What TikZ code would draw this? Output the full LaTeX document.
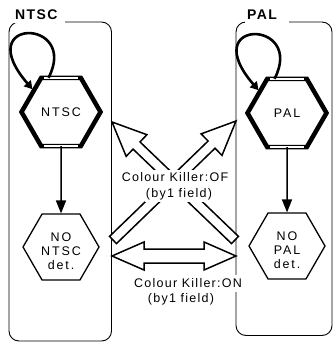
\documentclass[tikz,border=0pt]{standalone}
\usepackage{fontspec}
\setmainfont{Liberation Sans}
\newfontfamily\lblfont[LetterSpace=10]{Liberation Sans}
\newfontfamily\ttlfont[LetterSpace=10]{Liberation Sans}
\newfontfamily\hexfont[LetterSpace=15]{Liberation Sans}
\usetikzlibrary{calc,shapes.geometric,arrows.meta}
\newcommand\blockarrow[5]{% tail, tip, shaft half, head half, head length
  \coordinate (baH) at ($(#2)!#5!(#1)$);
  \draw[hollowarr] ($(#1)!#3!90:(#2)$) -- ($(baH)!#3!90:(#2)$) -- ($(baH)!#4!90:(#2)$) -- (#2)
    -- ($(baH)!#4!-90:(#2)$) -- ($(baH)!#3!-90:(#2)$) -- ($(#1)!#3!-90:(#2)$) -- cycle;}
\newcommand\blockarrowtwo[5]{% end A, end B, shaft half, head half, head length
  \coordinate (baHa) at ($(#2)!#5!(#1)$);
  \coordinate (baHb) at ($(#1)!#5!(#2)$);
  \draw[hollowarr] (#2) -- ($(baHa)!#4!90:(#2)$) -- ($(baHa)!#3!90:(#2)$) -- ($(baHb)!#3!90:(#2)$)
    -- ($(baHb)!#4!90:(#2)$) -- (#1) -- ($(baHb)!#4!-90:(#2)$) -- ($(baHb)!#3!-90:(#2)$)
    -- ($(baHa)!#3!-90:(#2)$) -- ($(baHa)!#4!-90:(#2)$) -- cycle;}
\tikzset{
  frameline/.style={draw=black, line width=0.9pt, rounded corners=10pt},
  titlenode/.style={font=\ttlfont\bfseries\fontsize{14}{16}\selectfont, fill=white,
    inner xsep=2pt, inner ysep=3pt, align=left, anchor=west},
  bighex/.style={regular polygon, regular polygon sides=6, draw, line width=4.5pt,
    inner sep=0pt, outer sep=0pt, minimum size=79pt,
    font=\hexfont\fontsize{12.5}{14}\selectfont},
  smallhex/.style={regular polygon, regular polygon sides=6, draw, line width=1.3pt,
    inner sep=0pt, minimum size=76pt, font=\hexfont\fontsize{12.5}{14}\selectfont},
  whitestripe/.style={draw=white, line width=1.6pt},
  loopline/.style={line width=2.6pt, -{Triangle[length=8pt,width=9pt]}, shorten >=2pt},
  vline/.style={line width=1.5pt, -{Triangle[length=13pt,width=10pt]}},
  hollowarr/.style={draw=black, fill=white, line width=1.5pt, line join=miter},
  lbl/.style={font=\lblfont\fontsize{12.5}{15}\selectfont, fill=white,
    inner xsep=1pt, inner ysep=2.5pt, anchor=base}
}
\begin{document}
\begin{tikzpicture}[x=1pt,y=-1pt]
\useasboundingbox (0,0) rectangle (334,344);
% group frames
\draw[frameline] (9,22) rectangle (111.5,341);
\draw[frameline] (236,22) rectangle (332,335.5);
\node[titlenode, text width=48pt] (ntscTitle) at (13,15) {NTSC};
\node[titlenode, text width=40pt] (palTitle) at (245,15) {PAL};
% states
\node[bighex] (NTSC) at (61,112) {NTSC};
\node[bighex] (PAL) at (287,113) {PAL};
\node[smallhex] (NONTSC) at (61,247)
  {\raisebox{-6pt}[\height][\depth]{\begin{tabular}{@{}c@{}}NO\\NTSC\\det.\end{tabular}}};
\node[smallhex] (NOPAL) at (287,246)
  {\raisebox{-6pt}[\height][\depth]{\begin{tabular}{@{}c@{}}NO\\PAL\\det.\end{tabular}}};
\draw[whitestripe] ($(NTSC.120)!3pt!(NTSC.60)$) -- ($(NTSC.60)!3pt!(NTSC.120)$);
\draw[whitestripe] ($(NTSC.240)!3pt!(NTSC.300)$) -- ($(NTSC.300)!3pt!(NTSC.240)$);
\draw[whitestripe] ($(PAL.120)!3pt!(PAL.60)$) -- ($(PAL.60)!3pt!(PAL.120)$);
\draw[whitestripe] ($(PAL.240)!3pt!(PAL.300)$) -- ($(PAL.300)!3pt!(PAL.240)$);
% self loops
\draw[loopline] (NTSC.110) .. controls +(31,-60) and +(-64,-74) .. (NTSC.142);
\draw[loopline] (PAL.110) .. controls +(31,-60) and +(-64,-74) .. (PAL.142);
% transitions inside groups
\draw[vline] (NTSC.south) -- (NONTSC.north);
\draw[vline] (PAL.south) -- (NOPAL.north);
% colour killer arrows
\coordinate (offPalTail) at (113,240);
\coordinate (offPalTip) at (236,121);
\coordinate (offNtscTail) at (235,240);
\coordinate (offNtscTip) at (112,122);
\coordinate (onL) at (112,256);
\coordinate (onR) at (236,256);
\blockarrow{offPalTail}{offPalTip}{5pt}{15pt}{34pt}
\blockarrow{offNtscTail}{offNtscTip}{5pt}{15pt}{34pt}
\blockarrowtwo{onL}{onR}{7pt}{14pt}{32pt}
% labels
\node[lbl, text depth=2pt] (offLbl) at (175,182) {Colour Killer:OF};
\node[lbl] (offLblB) at (179,197) {(by1 field)};
\node[lbl, text depth=2pt] (onLbl) at (188,287) {Colour Killer:ON};
\node[lbl] (onLblB) at (181,302) {(by1 field)};
\end{tikzpicture}
\end{document}
